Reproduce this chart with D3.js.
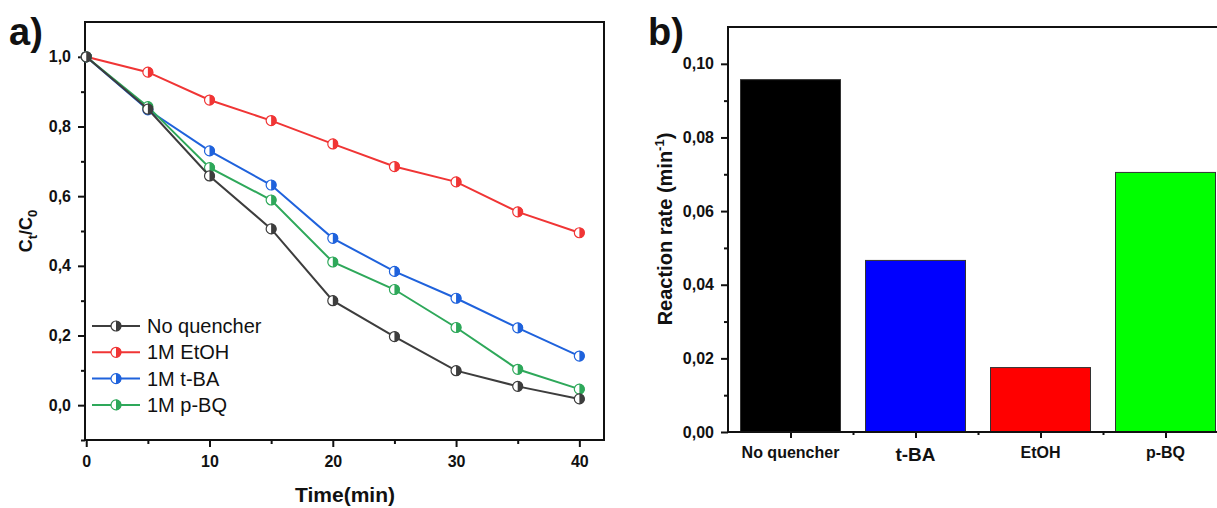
<!DOCTYPE html>
<html>
<head>
<meta charset="utf-8">
<script src="https://cdn.jsdelivr.net/npm/d3@7"></script>
<style>
  body { margin: 0; background: #fff; }
  svg { font-family: "Liberation Sans", Arial, sans-serif; }
</style>
</head>
<body>
<svg></svg>
<script>
const svg = d3.select("svg");
const width = 1217;
const height = 508;
svg.attr("width", width).attr("height", height);

// data
const times = [0, 5, 10, 15, 20, 25, 30, 35, 40];
const noQuencher = [1.0, 0.85, 0.658, 0.506, 0.30, 0.197, 0.099, 0.054, 0.018];
const etoh = [1.0, 0.956, 0.876, 0.817, 0.75, 0.685, 0.641, 0.555, 0.495];
const tba = [1.0, 0.848, 0.73, 0.632, 0.479, 0.384, 0.307, 0.222, 0.141];
const pbq = [1.0, 0.857, 0.682, 0.589, 0.411, 0.332, 0.223, 0.103, 0.046];
const seriesNames = ["No quencher", "1M EtOH", "1M t-BA", "1M p-BQ"];
const seriesColors = ["#3d3d3d", "#f03535", "#1f62dc", "#2ea85a"];

const barCategories = ["No quencher", "t-BA", "EtOH", "p-BQ"];
const rates = [0.0957, 0.0466, 0.0175, 0.0705];
const barColors = ["#000000", "#0000ff", "#ff0000", "#00ff00"];

const ctTicks = [0, 0.2, 0.4, 0.6, 0.8, 1.0];
const timeTicks = [0, 10, 20, 30, 40];
const rateTicks = [0, 0.02, 0.04, 0.06, 0.08, 0.10];

const comma = f => v => d3.format(f)(v).replace(".", ",");

// ---------- panel a ----------
const a = { left: 85, top: 22, right: 604, bottom: 440 };
const x = d3.scaleLinear().domain([-0.1, 42]).range([a.left, a.right]);
const y = d3.scaleLinear().domain([-0.1, 1.1]).range([a.bottom, a.top]);

const ga = svg.append("g");

// frame
ga.append("rect")
  .attr("x", a.left).attr("y", a.top)
  .attr("width", a.right - a.left).attr("height", a.bottom - a.top)
  .attr("fill", "none").attr("stroke", "#111").attr("stroke-width", 2);

ga.append("g")
  .attr("transform", `translate(${a.left},0)`)
  .call(d3.axisLeft(y).tickValues(ctTicks).tickSize(7).tickPadding(7).tickFormat(comma(".1f")));
ga.append("g")
  .attr("transform", `translate(${a.left},0)`)
  .call(d3.axisLeft(y).tickValues([-0.1, 0.1, 0.3, 0.5, 0.7, 0.9]).tickSize(4).tickFormat(""));
ga.append("g")
  .attr("transform", `translate(0,${a.bottom})`)
  .call(d3.axisBottom(x).tickValues(timeTicks).tickSize(7).tickPadding(9).tickFormat(d3.format("d")));
ga.append("g")
  .attr("transform", `translate(0,${a.bottom})`)
  .call(d3.axisBottom(x).tickValues([5, 15, 25, 35]).tickSize(4).tickFormat(""));

ga.selectAll(".domain").remove();
ga.selectAll(".tick line").attr("stroke", "#111").attr("stroke-width", 2);
ga.selectAll(".tick text").attr("fill", "#111").style("font-size", "16px").style("font-weight", "bold");

// axis titles
ga.append("text")
  .attr("x", 345).attr("y", 502)
  .attr("text-anchor", "middle")
  .attr("fill", "#111")
  .style("font-size", "21px").style("font-weight", "bold")
  .text("Time(min)");

const ylab = ga.append("text")
  .attr("transform", "translate(32,231) rotate(-90)")
  .attr("text-anchor", "middle")
  .attr("fill", "#111")
  .style("font-size", "18px").style("font-weight", "bold");
ylab.append("tspan").text("C");
ylab.append("tspan").attr("dy", 5).style("font-size", "13px").text("t");
ylab.append("tspan").attr("dy", -5).text("/C");
ylab.append("tspan").attr("dy", 5).style("font-size", "13px").text("0");

ga.append("text")
  .attr("x", 9).attr("y", 45)
  .attr("fill", "#111")
  .style("font-size", "38px").style("font-weight", "bold")
  .text("a)");

const series = [noQuencher, etoh, tba, pbq];
const line = d3.line().x((d, i) => x(times[i])).y(d => y(d));
const halfRight = r => `M0,${-r}A${r},${r} 0 0 1 0,${r}Z`;

function marker(g, color) {
  g.append("circle").attr("r", 5).attr("fill", "#fff")
    .attr("stroke", color).attr("stroke-width", 1.2);
  g.append("path").attr("d", halfRight(5.3)).attr("fill", color);
}

// draw order: back to front
[1, 2, 3, 0].forEach(k => {
  const vals = series[k];
  ga.append("path")
    .datum(vals)
    .attr("d", line)
    .attr("fill", "none")
    .attr("stroke", seriesColors[k])
    .attr("stroke-width", 2);
  ga.selectAll(null)
    .data(vals)
    .enter()
    .append("g")
    .attr("transform", (d, i) => `translate(${x(times[i])},${y(d)})`)
    .each(function () { marker(d3.select(this), seriesColors[k]); });
});

// legend
const leg = ga.append("g");
seriesNames.forEach((name, i) => {
  const ly = 326 + i * 26.3;
  leg.append("line")
    .attr("x1", 92).attr("x2", 140).attr("y1", ly).attr("y2", ly)
    .attr("stroke", seriesColors[i]).attr("stroke-width", 2);
  const m = leg.append("g").attr("transform", `translate(116,${ly})`);
  marker(m, seriesColors[i]);
  leg.append("text")
    .attr("x", 147).attr("y", ly + 7)
    .attr("fill", "#111")
    .style("font-size", "20px")
    .text(name);
});

// ---------- panel b ----------
const b = { left: 728, top: 27, right: 1228, bottom: 432 };
const xb = d3.scaleLinear().domain([0.5, 4.5]).range([b.left, b.right]);
const yb = d3.scaleLinear().domain([0, 0.11]).range([b.bottom, b.top]);
const barW = 100;

const gb = svg.append("g");

gb.selectAll(".bar")
  .data(rates)
  .enter()
  .append("rect")
  .attr("class", "bar")
  .attr("x", (d, i) => xb(i + 1) - barW / 2)
  .attr("y", d => yb(d))
  .attr("width", barW)
  .attr("height", d => yb(0) - yb(d))
  .attr("fill", (d, i) => barColors[i])
  .attr("stroke", "#333")
  .attr("stroke-width", 1);

gb.append("rect")
  .attr("x", b.left).attr("y", b.top)
  .attr("width", b.right - b.left).attr("height", b.bottom - b.top)
  .attr("fill", "none").attr("stroke", "#111").attr("stroke-width", 2);

gb.append("g")
  .attr("transform", `translate(${b.left},0)`)
  .call(d3.axisLeft(yb).tickValues(rateTicks).tickSize(7).tickPadding(7).tickFormat(comma(".2f")));
gb.append("g")
  .attr("transform", `translate(${b.left},0)`)
  .call(d3.axisLeft(yb).tickValues([0.01, 0.03, 0.05, 0.07, 0.09]).tickSize(4).tickFormat(""));
gb.append("g")
  .attr("transform", `translate(0,${b.bottom})`)
  .call(d3.axisBottom(xb).tickValues([1, 2, 3, 4]).tickSize(6).tickFormat(""));
gb.append("g")
  .attr("transform", `translate(0,${b.bottom})`)
  .call(d3.axisBottom(xb).tickValues([1.5, 2.5, 3.5]).tickSize(3).tickFormat(""));

gb.selectAll(".domain").remove();
gb.selectAll(".tick line").attr("stroke", "#111").attr("stroke-width", 2);
gb.selectAll(".tick text").attr("fill", "#111").style("font-size", "16px").style("font-weight", "bold");

const catSizes = [16, 19, 16, 16];
gb.selectAll(".cat")
  .data(barCategories)
  .enter()
  .append("text")
  .attr("class", "cat")
  .attr("x", (d, i) => xb(i + 1))
  .attr("y", (d, i) => i === 1 ? 461 : 458)
  .attr("text-anchor", "middle")
  .attr("fill", "#111")
  .style("font-weight", "bold")
  .style("font-size", (d, i) => catSizes[i] + "px")
  .text(d => d);

const ylabB = gb.append("text")
  .attr("transform", "translate(672,229) rotate(-90)")
  .attr("text-anchor", "middle")
  .attr("fill", "#111")
  .style("font-size", "20px").style("font-weight", "bold");
ylabB.append("tspan").text("Reaction rate (min");
ylabB.append("tspan").attr("dy", -8).style("font-size", "13px").text("-1");
ylabB.append("tspan").attr("dy", 8).text(")");

gb.append("text")
  .attr("x", 648).attr("y", 45)
  .attr("fill", "#111")
  .style("font-size", "38px").style("font-weight", "bold")
  .text("b)");
</script>
</body>
</html>
